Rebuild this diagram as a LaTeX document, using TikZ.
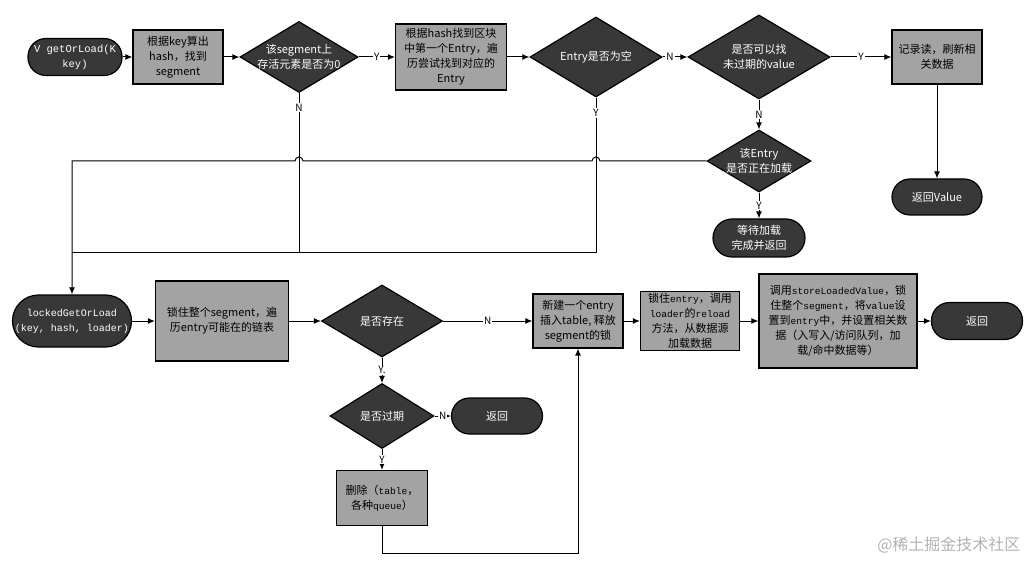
\documentclass[tikz,border=0pt]{standalone}
\usepackage{fontspec}
\setmainfont{Noto Sans CJK SC}
\newfontfamily\monofont{Liberation Mono}
\usetikzlibrary{arrows.meta,shapes.geometric}
\newcommand{\mt}[1]{{\monofont\fontsize{9.6}{15}\selectfont #1}}
\definecolor{darkfill}{HTML}{383838}
\definecolor{boxfill}{HTML}{A3A3A3}
\tikzset{term node/.style={rectangle,rounded corners=#1,fill=darkfill,draw=black,line width=1.2pt,text=white,align=center,inner sep=1pt,font=\fontsize{11}{15}\selectfont},
term node/.default=18pt,
proc node/.style={rectangle,fill=boxfill,draw=black,line width=1.2pt,align=center,inner sep=1pt,font=\fontsize{11}{15}\selectfont},
dec node/.style={diamond,fill=darkfill,draw=black,line width=1.2pt,inner sep=0pt},
dec text/.style={text=white,align=center,font=\fontsize{11}{15}\selectfont},
sz/.style 2 args={minimum width=#1pt,minimum height=#2pt},
mono/.style={font=\monofont\fontsize{#1}{15}\selectfont},
yn/.style={fill=white,inner sep=1pt,font=\fontsize{10}{12}\selectfont},
flow/.style={line width=1pt,-{Latex[length=7pt,width=6pt]}},
}

\begin{document}
\begin{tikzpicture}[x=1pt,y=1pt]
\useasboundingbox (0,0) rectangle (1030,-561);
% top row
\node[term node,sz={94}{37},mono=10.5] (start) at (75,-57) {V getOrLoad(K\\key)};
\node[proc node,sz={90}{54}] (hash) at (178,-57) {根据key算出\\hash，找到\\segment};
\node[dec node,sz={118}{71},label={[dec text]center:该segment上\\存活元素是否为0}] (seg0) at (299,-57) {};
\node[proc node,sz={111}{66}] (first) at (451,-57) {根据hash找到区块\\中第一个Entry，遍\\历尝试找到对应的\\Entry};
\node[dec node,sz={132}{80},label={[dec text]center:Entry是否为空}] (empty) at (596,-57) {};
\node[dec node,sz={142}{84},label={[dec text]center:是否可以找\\未过期的value}] (valid) at (759,-57) {};
\node[proc node,sz={90}{54}] (record) at (937,-57) {记录读，刷新相\\关数据};
\node[term node,sz={90}{36}] (retval) at (937,-197) {返回Value};
\node[dec node,sz={104}{62},label={[dec text]center:该Entry\\是否正在加载}] (loading) at (759,-161) {};
\node[term node=19pt,sz={92}{38}] (wait) at (759,-238) {等待加载\\完成并返回};

% bottom row
\node[term node=26pt,sz={119}{52},mono=10] (locked) at (72,-321) {lockedGetOrLoad\\(key, hash, loader)};
\node[proc node,sz={133}{80}] (lockseg) at (222,-321) {锁住整个segment，遍\\历entry可能在的链表};
\node[dec node,sz={121}{72},label={[dec text]center:是否存在}] (exists) at (382,-321) {};
\node[proc node,sz={90}{54}] (newent) at (578,-321) {新建一个entry\\插入table, 释放\\segment的锁};
\node[proc node,sz={99}{59}] (reload) at (690,-321) {锁住\mt{entry}，调用\\\mt{loader}的\mt{reload}\\方法，从数据源\\加载数据};
\node[proc node,sz={158}{94}] (store) at (838,-321) {调用\mt{storeLoadedValue}，锁\\住整个\mt{segment}，将\mt{value}设\\置到\mt{entry}中，并设置相关数\\据（入写入/访问队列，加\\载/命中数据等）};
\node[term node,sz={91}{37}] (ret1) at (977,-321) {返回};
\node[dec node,sz={104}{65},label={[dec text]center:是否过期}] (expired) at (382,-416) {};
\node[term node,sz={91}{36}] (ret2) at (497,-416) {返回};
\node[proc node,sz={91}{55}] (remove) at (382,-498) {删除（\mt{table}，\\各种\mt{queue}）};

\path[draw,flow]
(start) edge (hash)
(hash) edge (seg0)
(seg0) edge node[yn] {Y} (first)
(first) edge (empty)
(empty) edge node[yn,pos=0.3] {N} (valid)
(valid) edge node[yn] {Y} (record)
(valid) edge node[yn] {N} (loading)
(loading) edge node[yn] {Y} (wait)
(record) edge (retval)
(locked) edge (lockseg)
(lockseg) edge (exists)
(exists) edge node[yn] {N} (newent)
(newent) edge (reload)
(reload) edge (store)
(store) edge (ret1)
(exists) edge node[yn] {Y.} (expired)
(expired) edge node[yn] {N} (ret2)
(expired) edge node[yn] {Y} (remove);

% lines back to lockedGetOrLoad
\draw[flow] (loading.west) -- (600,-161) arc[start angle=0,end angle=180,radius=4pt] -- (303,-161) arc[start angle=0,end angle=180,radius=4pt] -- (72,-161) -- (locked.north);
\draw[line width=1pt] (seg0.south) -- node[yn,pos=0.09] {N} (299,-253) -- (72,-253);
\draw[line width=1pt] (empty.south) -- node[yn,pos=0.1] {Y} (596,-253) -- (299,-253);
\draw[flow] (remove.south) -- (382,-553) -- (578,-553) -- (newent.south);

\node[text=black!30,font=\fontsize{16}{18}\selectfont,anchor=east] (mark) at (1024,-545) {@稀土掘金技术社区};
\end{tikzpicture}
\end{document}
